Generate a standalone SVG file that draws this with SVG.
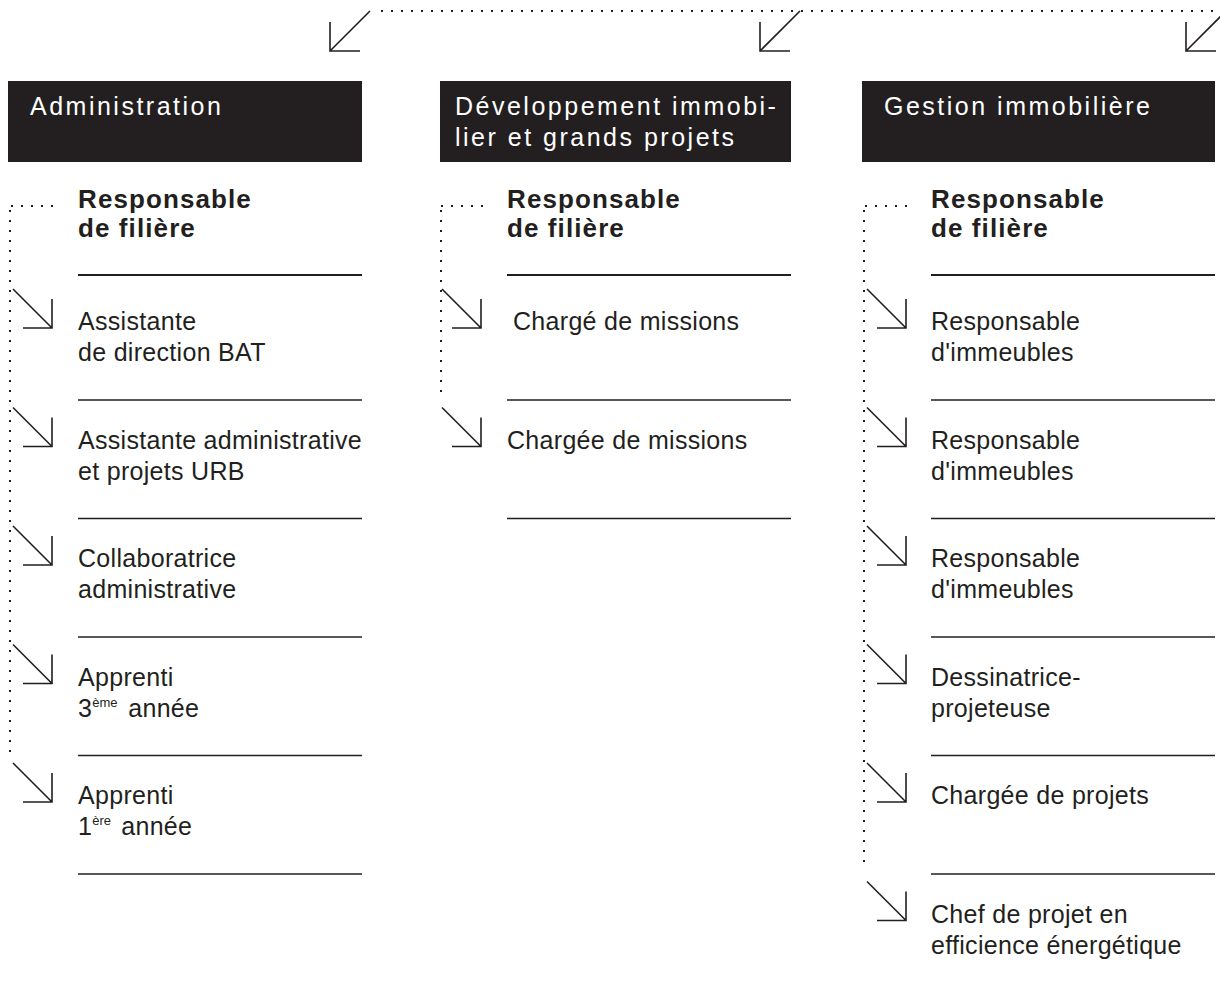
<svg xmlns="http://www.w3.org/2000/svg" xmlns:xlink="http://www.w3.org/1999/xlink" width="1220" height="989" viewBox="0 0 1220 989">
<style>
text { font-family: "Liberation Sans", Arial, Helvetica, sans-serif; fill: #231f20; }
.hdr { fill: #231f20; }
.ht { font-size: 25px; letter-spacing: 2.5px; fill: #ffffff; }
.rb { font-size: 26px; font-weight: bold; letter-spacing: 1.1px; }
.t { font-size: 25px; letter-spacing: 0.3px; }
.sup { font-size: 13px; letter-spacing: 0; }
.sep { stroke: #231f20; stroke-width: 1.3; }
.sep2 { stroke: #231f20; stroke-width: 2; }
.dot { fill: none; stroke: #231f20; stroke-width: 2; stroke-dasharray: 2 8; }
.arr { fill: none; stroke: #231f20; stroke-width: 1.6; }
</style>
<defs>
<path id="a" d="M0 0 L39 39 M39 10 V39 H10"/>
<path id="up" d="M40 0 L0 40 M0 11 V40 H30"/>
</defs>

<g id="connectors">
  <line class="dot" x1="381" y1="11" x2="1220" y2="11"/>
  <use href="#up" xlink:href="#up" class="arr" x="330" y="11"/>
  <use href="#up" xlink:href="#up" class="arr" x="760" y="11"/>
  <use href="#up" xlink:href="#up" class="arr" x="1186" y="11"/>
  <!-- col 1 -->
  <line class="dot" x1="11" y1="206" x2="55" y2="206"/>
  <line class="dot" x1="10" y1="210" x2="10" y2="752"/>
  <use href="#a" xlink:href="#a" class="arr" x="13" y="289"/>
  <use href="#a" xlink:href="#a" class="arr" x="13" y="407.5"/>
  <use href="#a" xlink:href="#a" class="arr" x="13" y="526"/>
  <use href="#a" xlink:href="#a" class="arr" x="13" y="644.5"/>
  <use href="#a" xlink:href="#a" class="arr" x="13" y="763"/>
  <!-- col 2 -->
  <line class="dot" x1="441" y1="206" x2="485" y2="206"/>
  <line class="dot" x1="441" y1="210" x2="441" y2="395"/>
  <use href="#a" xlink:href="#a" class="arr" x="442" y="289"/>
  <use href="#a" xlink:href="#a" class="arr" x="442" y="407.5"/>
  <!-- col 3 -->
  <line class="dot" x1="865" y1="206" x2="909" y2="206"/>
  <line class="dot" x1="864" y1="210" x2="864" y2="870"/>
  <use href="#a" xlink:href="#a" class="arr" x="867" y="289"/>
  <use href="#a" xlink:href="#a" class="arr" x="867" y="407.5"/>
  <use href="#a" xlink:href="#a" class="arr" x="867" y="526"/>
  <use href="#a" xlink:href="#a" class="arr" x="867" y="644.5"/>
  <use href="#a" xlink:href="#a" class="arr" x="867" y="763"/>
  <use href="#a" xlink:href="#a" class="arr" x="867" y="881.5"/>
</g>

<!-- Column 1 -->
<g id="hdr-administration">
  <rect class="hdr" x="8" y="81" width="354" height="81"/>
  <text class="ht" x="30" y="115">Administration</text>
</g>
<g id="resp-administration">
  <text class="rb" x="78" y="208">Responsable</text>
  <text class="rb" x="78" y="237">de filière</text>
  <line class="sep2" x1="78" y1="275" x2="362" y2="275"/>
</g>
<g id="adm-1">
  <text class="t" x="78" y="330">Assistante</text>
  <text class="t" x="78" y="361">de direction BAT</text>
  <line class="sep" x1="78" y1="400" x2="362" y2="400"/>
</g>
<g id="adm-2">
  <text class="t" x="78" y="448.5">Assistante administrative</text>
  <text class="t" x="78" y="479.5">et projets URB</text>
  <line class="sep" x1="78" y1="518.5" x2="362" y2="518.5"/>
</g>
<g id="adm-3">
  <text class="t" x="78" y="567">Collaboratrice</text>
  <text class="t" x="78" y="598">administrative</text>
  <line class="sep" x1="78" y1="637" x2="362" y2="637"/>
</g>
<g id="adm-4">
  <text class="t" x="78" y="685.5">Apprenti</text>
  <text class="t" x="78" y="716.5">3<tspan class="sup" dy="-10">ème</tspan><tspan x="121" dy="10"> année</tspan></text>
  <line class="sep" x1="78" y1="755.5" x2="362" y2="755.5"/>
</g>
<g id="adm-5">
  <text class="t" x="78" y="804">Apprenti</text>
  <text class="t" x="78" y="835">1<tspan class="sup" dy="-10">ère</tspan><tspan x="114" dy="10"> année</tspan></text>
  <line class="sep" x1="78" y1="874" x2="362" y2="874"/>
</g>

<!-- Column 2 -->
<g id="hdr-developpement">
  <rect class="hdr" x="440" y="81" width="351" height="81"/>
  <text class="ht" x="455" y="115">Développement immobi-</text>
  <text class="ht" x="455" y="146">lier et grands projets</text>
</g>
<g id="resp-developpement">
  <text class="rb" x="507" y="208">Responsable</text>
  <text class="rb" x="507" y="237">de filière</text>
  <line class="sep2" x1="507" y1="275" x2="791" y2="275"/>
</g>
<g id="dev-1">
  <text class="t" x="513" y="330">Chargé de missions</text>
  <line class="sep" x1="507" y1="400" x2="791" y2="400"/>
</g>
<g id="dev-2">
  <text class="t" x="507" y="448.5">Chargée de missions</text>
  <line class="sep" x1="507" y1="518.5" x2="791" y2="518.5"/>
</g>

<!-- Column 3 -->
<g id="hdr-gestion">
  <rect class="hdr" x="862" y="81" width="353" height="81"/>
  <text class="ht" x="884" y="115">Gestion immobilière</text>
</g>
<g id="resp-gestion">
  <text class="rb" x="931" y="208">Responsable</text>
  <text class="rb" x="931" y="237">de filière</text>
  <line class="sep2" x1="931" y1="275" x2="1215" y2="275"/>
</g>
<g id="ges-1">
  <text class="t" x="931" y="330">Responsable</text>
  <text class="t" x="931" y="361">d'immeubles</text>
  <line class="sep" x1="931" y1="400" x2="1215" y2="400"/>
</g>
<g id="ges-2">
  <text class="t" x="931" y="448.5">Responsable</text>
  <text class="t" x="931" y="479.5">d'immeubles</text>
  <line class="sep" x1="931" y1="518.5" x2="1215" y2="518.5"/>
</g>
<g id="ges-3">
  <text class="t" x="931" y="567">Responsable</text>
  <text class="t" x="931" y="598">d'immeubles</text>
  <line class="sep" x1="931" y1="637" x2="1215" y2="637"/>
</g>
<g id="ges-4">
  <text class="t" x="931" y="685.5">Dessinatrice-</text>
  <text class="t" x="931" y="716.5">projeteuse</text>
  <line class="sep" x1="931" y1="755.5" x2="1215" y2="755.5"/>
</g>
<g id="ges-5">
  <text class="t" x="931" y="804">Chargée de projets</text>
  <line class="sep" x1="931" y1="874" x2="1215" y2="874"/>
</g>
<g id="ges-6">
  <text class="t" x="931" y="922.5">Chef de projet en</text>
  <text class="t" x="931" y="953.5">efficience énergétique</text>
</g>
</svg>
